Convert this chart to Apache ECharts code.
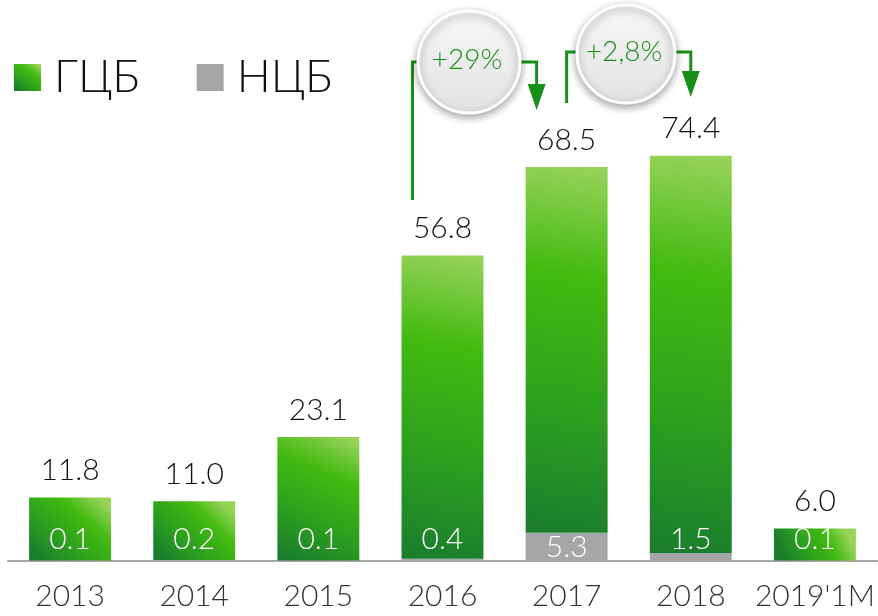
<!DOCTYPE html>
<html>
<head>
<meta charset="utf-8">
<script src="https://cdn.jsdelivr.net/npm/echarts@6/dist/echarts.min.js"></script>
<style>
  html, body { margin: 0; padding: 0; background: #fff; }
  #main { width: 878px; height: 616px; }
</style>
</head>
<body>
<div id="main"></div>
<script>
// данные
var years = ["2013", "2014", "2015", "2016", "2017", "2018", "2019'1M"];
var gcb = [11.8, 11.0, 23.1, 56.8, 68.5, 74.4, 6.0];
var ncb = [0.1, 0.2, 0.1, 0.4, 5.3, 1.5, 0.1];
var growth = ["+29%", "+2,8%"];

var FONT = "Lato";
var GREEN_LINE = "#17901a";

var chart = echarts.init(document.getElementById("main"));

var greenFill = new echarts.graphic.LinearGradient(0.85, 0, 0.15, 1, [
  { offset: 0, color: "#98d35a" },
  { offset: 0.3, color: "#42ba10" },
  { offset: 0.65, color: "#2da11e" },
  { offset: 1, color: "#1a7d2d" },
]);

var option = {
  animation: false,
  legend: {
    left: 9,
    top: 50,
    itemWidth: 27,
    itemHeight: 27,
    itemGap: 57,
    icon: "rect",
    textStyle: { fontFamily: FONT, fontWeight: 300, fontSize: 45, color: "#111", padding: [0, 0, 0, 8] },
    data: ["ГЦБ", "НЦБ"],
  },
  grid: { left: 8, right: 1, top: 27, bottom: 55 },
  xAxis: {
    type: "category",
    data: years,
    axisLine: { lineStyle: { color: "#a6a6a6", width: 2 } },
    axisTick: { length: 9, lineStyle: { color: "#a6a6a6", width: 2 } },
    axisLabel: { interval: 0, margin: 20, fontFamily: FONT, fontWeight: 300, fontSize: 30, color: "#333" },
  },
  yAxis: { type: "value", show: false, min: 0, max: 100 },
  series: [
    {
      name: "НЦБ",
      type: "bar",
      stack: "total",
      barWidth: "66%",
      itemStyle: { color: "#a6a6a6" },
      data: ncb.map(function (v) {
        return { value: v, label: { position: v > 3 ? "inside" : "insideBottom" } };
      }),
      label: {
        show: true,
        distance: 7,
        color: "#fff",
        fontFamily: FONT,
        fontWeight: 300,
        fontSize: 30,
        formatter: function (p) { return p.value.toFixed(1); },
      },
    },
    {
      name: "ГЦБ",
      type: "bar",
      stack: "total",
      barWidth: "66%",
      itemStyle: { color: greenFill },
      data: gcb,
      label: {
        show: true,
        position: "top",
        distance: 12,
        color: "#111",
        fontFamily: FONT,
        fontWeight: 300,
        fontSize: 30,
        formatter: function (p) { return p.value.toFixed(1); },
      },
    },
  ],
};

chart.setOption(option);

// стрелки с процентами
function px(cat, val) {
  return chart.convertToPixel({ xAxisIndex: 0, yAxisIndex: 0 }, [cat, val]);
}

function arrowHead(x, tipY) {
  return {
    type: "polygon",
    shape: { points: [[x - 9, tipY - 26], [x + 9, tipY - 26], [x, tipY]] },
    style: { fill: GREEN_LINE },
    z: 10,
  };
}

function bubble(cx, cy, r, text) {
  return [
    {
      type: "circle",
      shape: { cx: cx, cy: cy, r: r },
      style: {
        fill: new echarts.graphic.LinearGradient(0, 0, 0, 1, [
          { offset: 0, color: "#f7f7f7" },
          { offset: 1, color: "#e2e2e2" },
        ]),
        stroke: "#fff",
        lineWidth: 3,
        shadowBlur: 8,
        shadowOffsetY: 3,
        shadowColor: "rgba(0,0,0,0.35)",
      },
      z: 20,
    },
    {
      type: "text",
      x: cx - 2,
      y: cy - 2,
      style: {
        text: text,
        fill: GREEN_LINE,
        font: "300 28px " + FONT,
        align: "center",
        verticalAlign: "middle",
      },
      z: 21,
    },
  ];
}

var c16 = px(years[3], 0)[0];
var c17 = px(years[4], 0)[0];
var c18 = px(years[5], 0)[0];

var lineStyle = { stroke: GREEN_LINE, lineWidth: 3, fill: null };
var graphics = [
  {
    type: "polyline",
    shape: { points: [[c16 - 30, 200], [c16 - 30, 62], [c17 - 30, 62], [c17 - 30, 90]] },
    style: lineStyle,
    z: 10,
  },
  arrowHead(c17 - 30, 110),
  {
    type: "polyline",
    shape: { points: [[c17, 103], [c17, 52], [c18, 52], [c18, 75]] },
    style: lineStyle,
    z: 10,
  },
  arrowHead(c18, 97),
]
  .concat(bubble(469, 62, 51, growth[0]))
  .concat(bubble(626, 54, 49, growth[1]));

chart.setOption({ graphic: graphics });
</script>
</body>
</html>
